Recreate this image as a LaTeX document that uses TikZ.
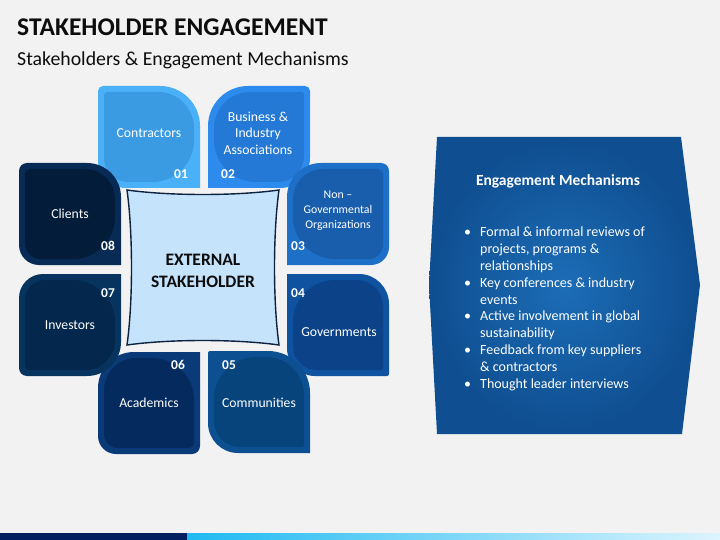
\documentclass[tikz,border=0pt]{standalone}
\usepackage{fontspec}
\setmainfont{Carlito}

\definecolor{bgcol}{HTML}{F2F2F2}
\definecolor{c01o}{HTML}{4AB0F7}
\definecolor{c01i}{HTML}{3A9AE2}
\definecolor{c02o}{HTML}{2E8BEE}
\definecolor{c02i}{HTML}{2479D6}
\definecolor{c03o}{HTML}{1E6FC8}
\definecolor{c03i}{HTML}{195DAD}
\definecolor{c04o}{HTML}{0E52A0}
\definecolor{c04i}{HTML}{0B4288}
\definecolor{c05o}{HTML}{0C5092}
\definecolor{c05i}{HTML}{07447B}
\definecolor{c06o}{HTML}{0A3B78}
\definecolor{c06i}{HTML}{052B5E}
\definecolor{c07o}{HTML}{07335F}
\definecolor{c07i}{HTML}{04284D}
\definecolor{c08o}{HTML}{082B55}
\definecolor{c08i}{HTML}{031C3A}
\definecolor{boxfill}{HTML}{C5E3FB}
\definecolor{boxline}{HTML}{0D2240}
\definecolor{mechin}{HTML}{1C6DB7}
\definecolor{mechout}{HTML}{0F4E90}
\definecolor{barnavy}{HTML}{002060}
\definecolor{bar1}{HTML}{0070C0}
\definecolor{bar2}{HTML}{00B0F0}
\definecolor{bar3}{HTML}{F0FAFF}
\definecolor{bar4}{HTML}{74CDEE}

\pgfdeclarehorizontalshading{barshade}{100bp}{color(0bp)=(bar1); color(17bp)=(bar2); color(80bp)=(bar3); color(100bp)=(bar4)}

% square leaf: x0, y0, size, radius TL, TR, BR, BL
\newcommand{\leaf}[7]{%
  ({#1+#4},#2) -- ({#1+#3-#5},#2)
  .. controls ({#1+#3-0.448*#5},#2) and ({#1+#3},{#2+0.448*#5}) .. ({#1+#3},{#2+#5})
  -- ({#1+#3},{#2+#3-#6})
  .. controls ({#1+#3},{#2+#3-0.448*#6}) and ({#1+#3-0.448*#6},{#2+#3}) .. ({#1+#3-#6},{#2+#3})
  -- ({#1+#7},{#2+#3})
  .. controls ({#1+0.448*#7},{#2+#3}) and (#1,{#2+#3-0.448*#7}) .. (#1,{#2+#3-#7})
  -- (#1,{#2+#4})
  .. controls (#1,{#2+0.448*#4}) and ({#1+0.448*#4},#2) .. ({#1+#4},#2) -- cycle}

% bullet line and continuation line
\newcommand{\bul}{\makebox[16pt][l]{\textbullet}}
\newcommand{\ind}{\hspace*{16pt}}

\tikzset{
  petaltext/.style={text=white, align=center, inner sep=0pt, font=\fontsize{13.7}{16.5}\selectfont},
  petalnum/.style={text=white, inner sep=0pt, font=\bfseries\fontsize{13.5}{16}\selectfont},
  mechtext/.style={text=white, inner sep=0pt, align=left, font=\fontsize{14}{16.8}\selectfont},
}

\begin{document}
\begin{tikzpicture}[x=1pt,y=-1pt]
\fill[bgcol] (0,0) rectangle (720,540);
\useasboundingbox (0,0) rectangle (720,540);

% heading
\node[anchor=base west, inner sep=0pt, text=black!95, font=\bfseries\fontsize{25.5}{30}\selectfont] (title) at (17,36) {STAKEHOLDER ENGAGEMENT};
\node[anchor=base west, inner sep=0pt, text=black!95, font=\fontsize{19.8}{24}\selectfont] (subtitle) at (17,66) {Stakeholders \& Engagement Mechanisms};

% petals
\fill[c01o] \leaf{98}{86}{102}{5}{40}{0}{28};
\fill[c01i] \leaf{104}{92}{90}{3}{36}{42}{24};
\fill[c02o] \leaf{208}{86}{102}{40}{5}{30}{0};
\fill[c02i] \leaf{214}{92}{90}{36}{3}{26}{42};
\fill[c03o] \leaf{287}{163}{102}{34}{8}{18}{0};
\fill[c03i] \leaf{293}{169}{90}{30}{5}{14}{42};
\fill[c04o] \leaf{287}{274}{102}{0}{30}{2}{28};
\fill[c04i] \leaf{293}{280}{90}{42}{26}{2}{24};
\fill[c05o] \leaf{208}{351}{102}{2}{42}{0}{30};
\fill[c05i] \leaf{214}{357}{90}{42}{38}{2}{26};
\fill[c06o] \leaf{98}{352}{102}{36}{0}{8}{18};
\fill[c06i] \leaf{104}{358}{90}{32}{42}{5}{14};
\fill[c07o] \leaf{19}{274}{102}{24}{0}{34}{8};
\fill[c07i] \leaf{25}{280}{90}{20}{42}{30}{5};
\fill[c08o] \leaf{19}{163}{102}{8}{34}{0}{20};
\fill[c08i] \leaf{25}{169}{90}{5}{30}{42}{16};

% centre square
\draw[fill=boxfill, draw=boxline, line width=1.4pt]
  (127,190) .. controls (170,196) and (236,196) .. (279,190)
  .. controls (273,233) and (273,302) .. (279,345)
  .. controls (236,339) and (170,339) .. (127,345)
  .. controls (133,302) and (133,233) .. (127,190) -- cycle;
\node[align=center, inner sep=0pt, text=black!95, font=\bfseries\fontsize{17.5}{22.5}\selectfont] (centre) at (203,271) {EXTERNAL\\STAKEHOLDER};

% petal labels
\node[petaltext] (t01) at (149,133) {Contractors};
\node[petalnum] (n01) at (181,174) {01};
\node[petaltext] (t02) at (258,133) {Business \&\\Industry\\Associations};
\node[petalnum] (n02) at (228,174) {02};
\node[petaltext, font=\fontsize{11.8}{15}\selectfont] (t03) at (338,211) {Non --\\Governmental\\Organizations};
\node[petalnum] (n03) at (298,246) {03};
\node[petaltext] (t04) at (339,332) {Governments};
\node[petalnum] (n04) at (298,293) {04};
\node[petaltext] (t05) at (259,403) {Communities};
\node[petalnum] (n05) at (229,365) {05};
\node[petaltext] (t06) at (149,403) {Academics};
\node[petalnum] (n06) at (178,365) {06};
\node[petaltext] (t07) at (70,325) {Investors};
\node[petalnum] (n07) at (108,293) {07};
\node[petaltext] (t08) at (70,214) {Clients};
\node[petalnum] (n08) at (108,246) {08};

% engagement mechanisms panel
\shade[inner color=mechin, outer color=mechout]
  (437,137) -- (681,137) -- (700,285) -- (682,434) -- (437,434) -- (429,285) -- cycle;
\node[anchor=base, inner sep=0pt, text=white, font=\bfseries\fontsize{15.5}{18}\selectfont] (mechtitle) at (558,186) {Engagement Mechanisms};
\node[mechtext, anchor=north west] (mechlist) at (464,227) {%
  \bul Formal \& informal reviews of\\
  \ind projects, programs \&\\
  \ind relationships\\
  \bul Key conferences \& industry\\
  \ind events\\
  \bul Active involvement in global\\
  \ind sustainability\\
  \bul Feedback from key suppliers\\
  \ind \& contractors\\
  \bul Thought leader interviews};

% bottom bar
\fill[barnavy] (0,533) rectangle (187,540);
\shade[shading=barshade] (187,533) rectangle (720,540);
\end{tikzpicture}
\end{document}
